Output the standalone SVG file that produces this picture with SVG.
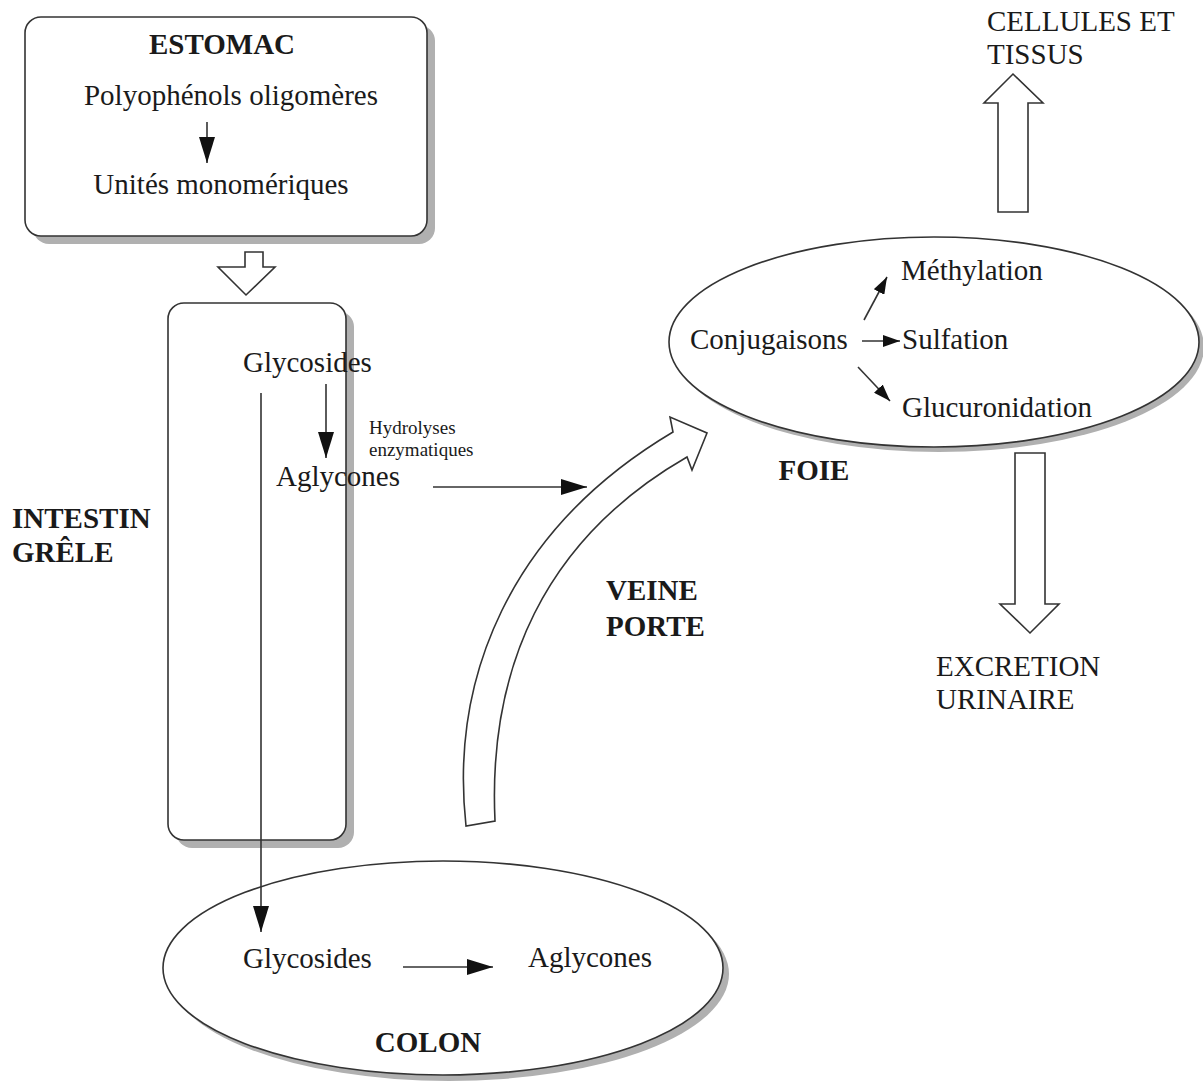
<svg xmlns="http://www.w3.org/2000/svg" width="1203" height="1081" viewBox="0 0 1203 1081">
<defs>
<style>
.t{font-family:"Liberation Serif","Times New Roman",serif;font-size:29px;fill:#1a1a1a}
.b{font-weight:bold}
.s{font-size:19px}
.box{fill:#fff;stroke:#333;stroke-width:1.6}
.sh{fill:#b0b0b0;stroke:none}
.ln{fill:none;stroke:#333;stroke-width:1.6}
.hol{fill:#fff;stroke:#333;stroke-width:1.6;stroke-linejoin:miter}
</style>
<marker id="ah" markerUnits="userSpaceOnUse" markerWidth="26" markerHeight="16" refX="26" refY="8" orient="auto">
<path d="M0,0 L26,8 L0,16 z" fill="#111"/>
</marker>
<marker id="ahs" markerUnits="userSpaceOnUse" markerWidth="17" markerHeight="12" refX="17" refY="6" orient="auto">
<path d="M0,0 L17,6 L0,12 z" fill="#111"/>
</marker>
</defs>
<rect width="1203" height="1081" fill="#fff"/>

<g id="estomac">
<rect class="sh" x="33" y="25" width="402" height="219" rx="16"/>
<rect class="box" x="25" y="17" width="402" height="219" rx="16"/>
<text class="t b" x="222" y="54" text-anchor="middle">ESTOMAC</text>
<text class="t" x="231" y="105" text-anchor="middle">Polyophénols oligomères</text>
<text class="t" x="221" y="194" text-anchor="middle">Unités monomériques</text>
</g>

<g id="intestin">
<rect class="sh" x="176" y="311" width="178" height="537" rx="16"/>
<rect class="box" x="168" y="303" width="178" height="537" rx="16"/>
<text class="t" x="243" y="372">Glycosides</text>
<text class="t" x="276" y="486">Aglycones</text>
<text class="t s" x="369" y="434">Hydrolyses</text>
<text class="t s" x="369" y="456">enzymatiques</text>
<text class="t b" x="12" y="528">INTESTIN</text>
<text class="t b" x="12" y="562">GRÊLE</text>
</g>

<g id="colon">
<ellipse class="sh" cx="449" cy="974" rx="280" ry="107"/>
<ellipse class="box" cx="443" cy="968" rx="280" ry="107"/>
<text class="t" x="243" y="968">Glycosides</text>
<text class="t" x="528" y="967">Aglycones</text>
<text class="t b" x="428" y="1052" text-anchor="middle">COLON</text>
</g>

<g id="foie">
<ellipse class="sh" cx="939" cy="347" rx="265" ry="105"/>
<ellipse class="box" cx="934" cy="342" rx="265" ry="105"/>
<text class="t" x="690" y="349">Conjugaisons</text>
<text class="t" x="901" y="280">Méthylation</text>
<text class="t" x="902" y="349">Sulfation</text>
<text class="t" x="902" y="417">Glucuronidation</text>
<text class="t b" x="814" y="480" text-anchor="middle">FOIE</text>
</g>

<g id="veine-porte">
<path class="hol" d="M466,826 C450,680 508,530 673,432 L670,417 L707,433 L692,470 L687,457 C543,540 488,670 495,821 Z"/>
<text class="t b" x="606" y="600">VEINE</text>
<text class="t b" x="606" y="636">PORTE</text>
</g>

<g id="cellules">
<path class="hol" d="M998,212 L998,103 L984,103 L1013,74 L1043,103 L1028,103 L1028,212 Z"/>
<text class="t" x="987" y="31">CELLULES ET</text>
<text class="t" x="987" y="64">TISSUS</text>
</g>

<g id="excretion">
<path class="hol" d="M1015,453 L1045,453 L1045,604 L1059,604 L1030,633 L1000,604 L1015,604 Z"/>
<text class="t" x="936" y="676">EXCRETION</text>
<text class="t" x="936" y="709">URINAIRE</text>
</g>

<g id="connectors">
<path class="hol" d="M245,252 L263,252 L263,267 L275,267 L246,295 L218,267 L245,267 Z"/>
<line class="ln" x1="207" y1="122" x2="207" y2="163" marker-end="url(#ah)"/>
<line class="ln" x1="326" y1="384" x2="326" y2="458" marker-end="url(#ah)"/>
<line class="ln" x1="261" y1="393" x2="261" y2="932" marker-end="url(#ah)"/>
<line class="ln" x1="433" y1="487" x2="587" y2="487" marker-end="url(#ah)"/>
<line class="ln" x1="403" y1="967" x2="493" y2="967" marker-end="url(#ah)"/>
<line class="ln" x1="864" y1="320" x2="887" y2="277" marker-end="url(#ahs)"/>
<line class="ln" x1="862" y1="341" x2="900" y2="341" marker-end="url(#ahs)"/>
<line class="ln" x1="858" y1="367" x2="890" y2="401" marker-end="url(#ahs)"/>
</g>
</svg>
